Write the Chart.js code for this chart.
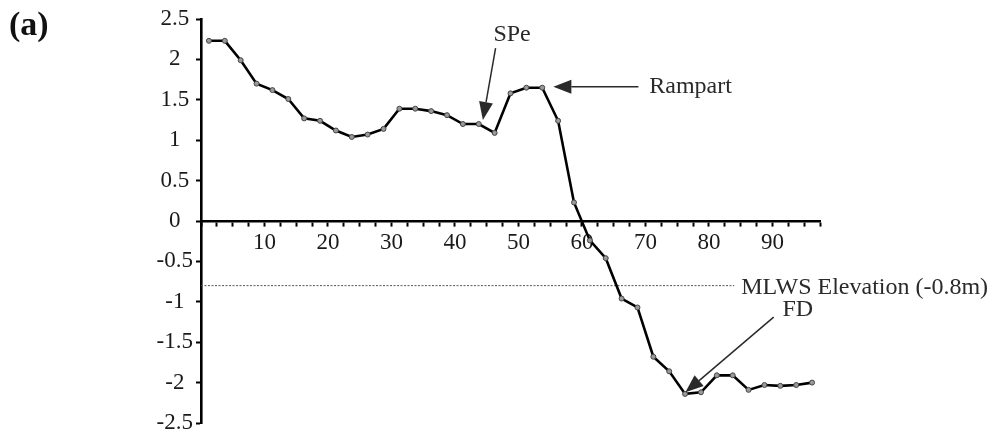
<!DOCTYPE html>
<html>
<head>
<meta charset="utf-8">
<script src="https://cdn.jsdelivr.net/npm/chart.js@4.4.1/dist/chart.umd.min.js"></script>
<style>
  body { margin: 0; background: #fff; }
  #chart { display: block; }
</style>
</head>
<body>
<canvas id="chart" width="992" height="441"></canvas>
<script>
// ---------------------------------------------- datos del perfil
const distance = [1.25, 3.75, 6.25, 8.75, 11.25, 13.75, 16.25, 18.75, 21.25, 23.75,
  26.25, 28.75, 31.25, 33.75, 36.25, 38.75, 41.25, 43.75, 46.25, 48.75,
  51.25, 53.75, 56.25, 58.75, 61.25, 63.75, 66.25, 68.75, 71.25, 73.75,
  76.25, 78.75, 81.25, 83.75, 86.25, 88.75, 91.25, 93.75, 96.25];
const elevation = [2.23, 2.23, 1.99, 1.70, 1.62, 1.51, 1.27, 1.24, 1.12, 1.04,
  1.07, 1.14, 1.39, 1.39, 1.36, 1.31, 1.20, 1.20, 1.09, 1.58,
  1.65, 1.65, 1.24, 0.23, -0.24, -0.46, -0.96, -1.07, -1.68, -1.86,
  -2.14, -2.12, -1.91, -1.91, -2.09, -2.03, -2.04, -2.03, -2.00];
const xTickLabels = [10, 20, 30, 40, 50, 60, 70, 80, 90];
const yTickLabels = [2.5, 2, 1.5, 1, 0.5, 0, -0.5, -1, -1.5, -2, -2.5];
const mlwsLevel = -0.8;
const mlwsEnd = 84;

// anotaciones (en unidades de datos)
const notes = [
  { text: "SPe", x: 49, y: 2.31, align: "center", from: [46.4, 2.14], to: [44.4, 1.25] },
  { text: "Rampart", x: 70.6, y: 1.66, align: "left", from: [68.9, 1.66], to: [55.5, 1.66] },
  { text: "MLWS Elevation (-0.8m)", x: 85.1, y: -0.82, align: "left" },
  { text: "FD", x: 94.0, y: -1.10, align: "center", from: [90.2, -1.19], to: [76.3, -2.12] }
];

const serif = "'Liberation Serif', 'Times New Roman', serif";
const myChart = document.getElementById("chart");

function flecha(ctx, x1, y1, x2, y2) {
  const ang = Math.atan2(y2 - y1, x2 - x1);
  const largo = 18, ancho = 7;
  const bx = x2 - largo * Math.cos(ang);
  const by = y2 - largo * Math.sin(ang);
  ctx.beginPath();
  ctx.moveTo(x1, y1);
  ctx.lineTo(bx, by);
  ctx.stroke();
  ctx.beginPath();
  ctx.moveTo(x2, y2);
  ctx.lineTo(bx + ancho * Math.sin(ang), by - ancho * Math.cos(ang));
  ctx.lineTo(bx - ancho * Math.sin(ang), by + ancho * Math.cos(ang));
  ctx.closePath();
  ctx.fill();
}

const anotaciones = {
  id: "anotaciones",
  afterDraw(chart) {
    const ctx = chart.ctx;
    const sx = chart.scales.x, sy = chart.scales.y;
    ctx.save();
    ctx.fillStyle = "#2a2a2a";
    ctx.strokeStyle = "#2a2a2a";
    ctx.lineWidth = 1.5;
    ctx.font = "24px " + serif;
    ctx.textBaseline = "middle";
    notes.forEach(n => {
      ctx.textAlign = n.align;
      ctx.fillText(n.text, sx.getPixelForValue(n.x), sy.getPixelForValue(n.y));
      if (n.from) {
        flecha(ctx,
          sx.getPixelForValue(n.from[0]), sy.getPixelForValue(n.from[1]),
          sx.getPixelForValue(n.to[0]), sy.getPixelForValue(n.to[1]));
      }
    });
    ctx.fillStyle = "#111";
    ctx.font = "bold 34px " + serif;
    ctx.textAlign = "left";
    ctx.fillText("(a)", 9, 26);
    ctx.restore();
  }
};

new Chart(myChart, {
  type: "line",
  data: {
    datasets: [{
      data: distance.map((d, i) => ({ x: d, y: elevation[i] })),
      borderColor: "#000",
      borderWidth: 2.6,
      tension: 0,
      pointRadius: 2.5,
      pointBackgroundColor: "#9a9a9a",
      pointBorderColor: "#444",
      pointBorderWidth: 1
    }, {
      data: [{ x: 0, y: mlwsLevel }, { x: mlwsEnd, y: mlwsLevel }],
      borderColor: "#555",
      borderWidth: 1,
      borderDash: [2, 1.5],
      pointRadius: 0
    }]
  },
  options: {
    responsive: false,
    animation: false,
    layout: { padding: { left: 0, right: 172, top: 19, bottom: 18 } },
    plugins: { legend: { display: false }, tooltip: { enabled: false } },
    scales: {
      x: {
        type: "linear",
        position: { y: 0 },
        min: 0,
        max: 97.5,
        border: { color: "#000", width: 2.6 },
        grid: { drawOnChartArea: false, drawTicks: true, tickLength: 4, color: "#000", tickWidth: 2 },
        ticks: {
          stepSize: 2.5,
          autoSkip: false,
          maxRotation: 0,
          padding: 4,
          color: "#1a1a1a",
          font: { family: serif, size: 23 },
          callback: v => xTickLabels.includes(v) ? String(v) : ""
        }
      },
      y: {
        type: "linear",
        position: "left",
        min: -2.5,
        max: 2.5,
        afterFit: scale => { scale.width = 201; },
        border: { color: "#000", width: 2.6 },
        grid: { drawOnChartArea: false, drawTicks: true, tickLength: 5, color: "#000", tickWidth: 2 },
        ticks: {
          stepSize: 0.5,
          padding: 3,
          crossAlign: "center",
          color: "#1a1a1a",
          font: { family: serif, size: 23 },
          callback: v => yTickLabels.includes(v) ? String(v) : ""
        }
      }
    }
  },
  plugins: [anotaciones]
});
</script>
</body>
</html>
